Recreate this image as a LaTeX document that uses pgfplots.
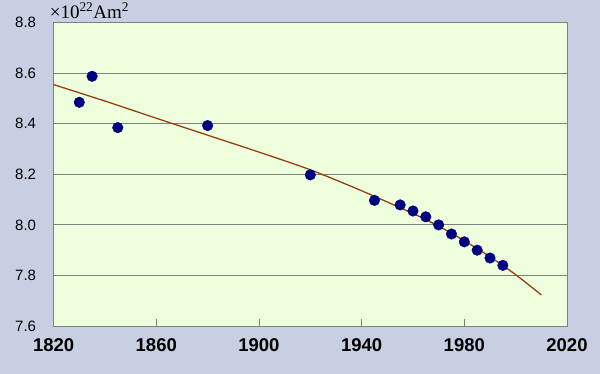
\documentclass[border=0pt]{standalone}
\usepackage{pgfplots}
\pgfplotsset{compat=1.18}
\usepackage{fontspec}
\setmainfont{Liberation Sans}
\newfontfamily\seriffont{Liberation Serif}
\definecolor{outerbg}{RGB}{201,207,226}
\definecolor{plotbg}{RGB}{238,255,222}
\definecolor{gridc}{RGB}{125,128,125}
\definecolor{navy}{RGB}{0,0,128}
\definecolor{brownline}{RGB}{150,62,15}
\begin{document}
\begin{tikzpicture}
\fill[outerbg] (0,0) rectangle (600bp,374bp);
\begin{axis}[
  at={(53.6bp,48bp)}, anchor=south west,
  scale only axis, width=513.4bp, height=303.3bp,
  xmin=1820, xmax=2020, ymin=7.6, ymax=8.8,
  xtick={1820,1860,1900,1940,1980,2020},
  ytick={7.6,7.8,8.0,8.2,8.4,8.6,8.8},
  xtick pos=lower, tick align=inside,
  major tick length=7bp,
  ytick style={draw=none},
  xtick style={gridc, line width=0.8bp},
  ymajorgrids, grid style={gridc, line width=1bp},
  axis line style={gridc, line width=1bp},
  axis background/.style={fill=plotbg},
  /pgf/number format/assume math mode=true,
  xticklabel style={/pgf/number format/1000 sep={}, font=\fontsize{18.5bp}{20bp}\selectfont\bfseries, yshift=-9bp},
  yticklabel style={/pgf/number format/fixed, /pgf/number format/fixed zerofill, /pgf/number format/precision=1, font=\fontsize{15bp}{17bp}\selectfont, xshift=-14bp},
  clip=false,
]
\addplot[brownline, line width=1.3bp, smooth] coordinates {
(1820,8.555) (1840,8.49) (1860,8.422) (1880,8.355) (1900,8.288) (1920,8.218)
(1940,8.135) (1960,8.045) (1970,7.995) (1980,7.937) (1990,7.874) (2000,7.803) (2010,7.723)
};
\addplot[only marks, mark=*, mark size=5.3bp, mark options={fill=navy, draw=navy}] coordinates {
(1830,8.485) (1835,8.588) (1845,8.385) (1880,8.393) (1920,8.198)
(1945,8.097) (1955,8.079) (1960,8.055) (1965,8.032) (1970,8.000)
(1975,7.964) (1980,7.933) (1985,7.900) (1990,7.869) (1995,7.840)
};
\node[anchor=base west, font=\seriffont\fontsize{19bp}{21bp}\selectfont, inner sep=0pt] at (rel axis cs:0,1) [xshift=-4bp, yshift=4bp] {×10\textsuperscript{22}Am\textsuperscript{2}};
\end{axis}
\end{tikzpicture}
\end{document}
